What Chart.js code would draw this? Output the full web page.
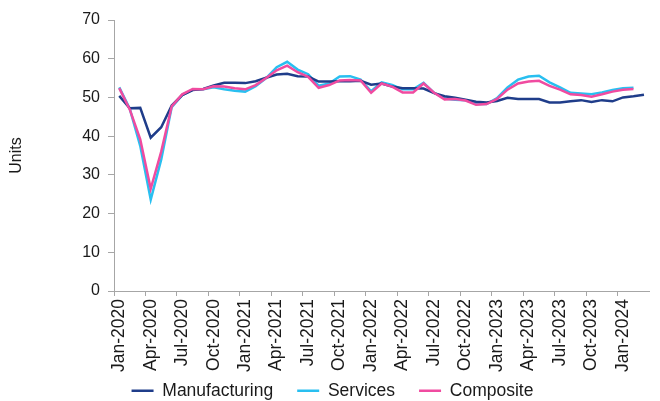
<!DOCTYPE html>
<html>
<head>
<meta charset="utf-8">
<script src="https://cdn.jsdelivr.net/npm/chart.js@4.4.0/dist/chart.umd.min.js"></script>
<style>
html, body { margin: 0; padding: 0; background: #fff; overflow: hidden; }
#wrap { width: 668px; height: 401px; }
</style>
</head>
<body>
<div id="wrap"><canvas id="chart" width="668" height="401"></canvas></div>
<script>
const months = [
    'Jan-2020', 'Feb-2020', 'Mar-2020', 'Apr-2020', 'May-2020', 'Jun-2020', 'Jul-2020', 'Aug-2020', 'Sep-2020', 'Oct-2020', 'Nov-2020', 'Dec-2020',
    'Jan-2021', 'Feb-2021', 'Mar-2021', 'Apr-2021', 'May-2021', 'Jun-2021', 'Jul-2021', 'Aug-2021', 'Sep-2021', 'Oct-2021', 'Nov-2021', 'Dec-2021',
    'Jan-2022', 'Feb-2022', 'Mar-2022', 'Apr-2022', 'May-2022', 'Jun-2022', 'Jul-2022', 'Aug-2022', 'Sep-2022', 'Oct-2022', 'Nov-2022', 'Dec-2022',
    'Jan-2023', 'Feb-2023', 'Mar-2023', 'Apr-2023', 'May-2023', 'Jun-2023', 'Jul-2023', 'Aug-2023', 'Sep-2023', 'Oct-2023', 'Nov-2023', 'Dec-2023',
    'Jan-2024', 'Feb-2024', 'Mar-2024'
];

const manufacturing = [
    50.4, 47.2, 47.3, 39.6, 42.3, 47.9, 50.6, 51.9, 52.2, 53.1, 53.8, 53.8,
    53.7, 54.2, 55.1, 55.9, 56.1, 55.5, 55.4, 54.1, 54.1, 54.2, 54.2, 54.3,
    53.3, 53.6, 52.8, 52.4, 52.4, 52.3, 51.1, 50.3, 49.9, 49.4, 48.9, 48.7,
    49.1, 49.9, 49.6, 49.6, 49.6, 48.7, 48.7, 49.0, 49.3, 48.8, 49.3, 49.0,
    50.0, 50.3, 50.7
];

const services = [
    52.6, 47.1, 37.5, 23.6, 34.0, 47.5, 50.6, 52.0, 52.1, 52.6, 52.1, 51.7,
    51.5, 52.9, 55.0, 57.8, 59.2, 57.2, 56.0, 53.0, 53.6, 55.4, 55.5, 54.6,
    51.6, 53.9, 53.2, 52.1, 52.1, 53.8, 51.2, 49.7, 49.4, 49.3, 48.3, 48.3,
    49.8, 52.6, 54.6, 55.4, 55.6, 53.9, 52.6, 51.2, 51.0, 50.8, 51.3, 51.9,
    52.4, 52.5
];

const composite = [
    52.4, 46.9, 39.2, 26.4, 36.0, 47.7, 50.8, 52.2, 52.1, 52.9, 52.8, 52.4,
    52.1, 53.2, 55.0, 57.0, 58.2, 56.5, 55.3, 52.5, 53.2, 54.4, 54.5, 54.4,
    51.2, 53.6, 52.8, 51.3, 51.3, 53.6, 51.2, 49.5, 49.6, 49.2, 48.1, 48.3,
    49.6, 52.0, 53.6, 54.1, 54.3, 53.0, 52.0, 50.8, 50.6, 50.2, 50.8, 51.5,
    52.0, 52.2
];

const axisGrey = '#a6a6a6';
const textColour = '#1a1a1a';
const font = { family: '"Liberation Sans", Arial, sans-serif', size: 16 };
const bigFont = { family: '"Liberation Sans", Arial, sans-serif', size: 17.5 };

const lineSet = (label, data, colour, order) => ({
    label: label,
    data: data,
    borderColor: colour,
    backgroundColor: colour,
    borderWidth: 2.5,
    pointRadius: 0,
    tension: 0,
    order: order
});

// legend keeps a wide item gap but its box is stretched upward so the row lands under the month labels
const liftLegend = {
    id: 'liftLegend',
    afterLayout: chart => {
        chart.legend.top -= 18;
    }
};

new Chart(document.getElementById('chart').getContext('2d'), {
    type: 'line',
    data: {
        labels: months,
        datasets: [
            lineSet('Manufacturing', manufacturing, '#1f3d8a', 1),
            lineSet('Services', services, '#29bff0', 2),
            lineSet('Composite', composite, '#f04ba0', 0)
        ]
    },
    plugins: [liftLegend],
    options: {
        responsive: false,
        animation: false,
        devicePixelRatio: 1,
        layout: { padding: { top: 20, right: 3, left: 0, bottom: 0 } },
        plugins: {
            tooltip: { enabled: false },
            legend: {
                position: 'bottom',
                maxHeight: 25,
                labels: {
                    color: textColour,
                    font: bigFont,
                    usePointStyle: true,
                    pointStyle: 'line',
                    pointStyleWidth: 22,
                    padding: 24,
                    sort: (a, b) => a.datasetIndex - b.datasetIndex
                }
            }
        },
        scales: {
            x: {
                offset: true,
                afterFit: s => { s.height = 85; },
                grid: {
                    offset: true,
                    drawOnChartArea: false,
                    tickLength: 5,
                    color: ctx => ctx.index % 3 === 0 ? axisGrey : 'rgba(0,0,0,0)'
                },
                border: { color: axisGrey, width: 1 },
                ticks: {
                    autoSkip: false,
                    maxRotation: 90,
                    minRotation: 90,
                    padding: 3,
                    color: textColour,
                    font: bigFont,
                    callback: (val, i) => i % 3 === 0 ? months[i] : ''
                }
            },
            y: {
                min: 0,
                max: 70,
                afterFit: s => { s.width = 114; },
                grid: {
                    drawOnChartArea: false,
                    tickLength: 6,
                    color: axisGrey
                },
                border: { color: axisGrey, width: 1 },
                ticks: {
                    stepSize: 10,
                    padding: 8,
                    color: textColour,
                    font: font
                },
                title: {
                    display: true,
                    text: 'Units',
                    color: textColour,
                    font: font,
                    padding: { top: 7, bottom: 0 }
                }
            }
        }
    }
});
</script>
</body>
</html>
